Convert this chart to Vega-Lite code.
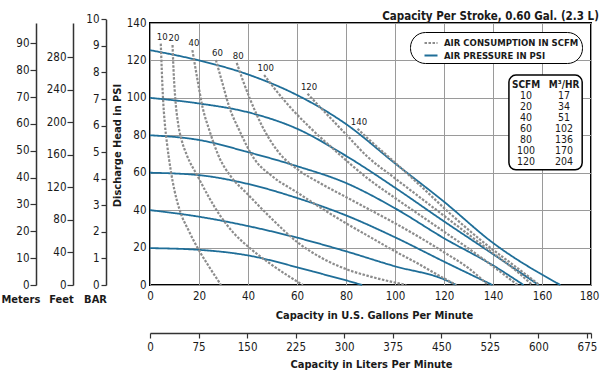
{
  "$schema": "https://vega.github.io/schema/vega-lite/v6.json",
  "width": 441,
  "height": 262,
  "autosize": {"type": "none"},
  "padding": {"left": 150, "top": 23, "right": 9, "bottom": 88},
  "background": "white",
  "title": {"text": "Capacity Per Stroke, 0.60 Gal. (2.3 L)", "anchor": "end", "fontSize": 11.5, "fontWeight": "bold", "font": "DejaVu Sans Condensed, Liberation Sans, sans-serif", "color": "#1a1a1a", "offset": 5, "dy": 14},
  "config": {
    "view": {"stroke": "black", "strokeWidth": 2},
    "font": "DejaVu Sans Condensed, Liberation Sans, sans-serif",
    "axis": {"labelFont": "DejaVu Sans Condensed, Liberation Sans, sans-serif", "titleFont": "DejaVu Sans Condensed, Liberation Sans, sans-serif", "labelColor": "#1a1a1a", "titleColor": "#1a1a1a", "labelFontSize": 11.5, "titleFontSize": 11, "titleFontWeight": "bold", "labelFlush": false, "labelOverlap": false},
    "text": {"font": "DejaVu Sans Condensed, Liberation Sans, sans-serif", "color": "#1a1a1a"}
  },
  "layer": [
    {
      "data": {"values": [
        {"kind": "AIR PRESSURE IN PSI", "curve": "P20", "order": 0, "gpm": 0, "psi": 19.7},
        {"kind": "AIR PRESSURE IN PSI", "curve": "P20", "order": 1, "gpm": 20, "psi": 18.8},
        {"kind": "AIR PRESSURE IN PSI", "curve": "P20", "order": 2, "gpm": 40, "psi": 15.8},
        {"kind": "AIR PRESSURE IN PSI", "curve": "P20", "order": 3, "gpm": 60, "psi": 9.5},
        {"kind": "AIR PRESSURE IN PSI", "curve": "P20", "order": 4, "gpm": 70, "psi": 6},
        {"kind": "AIR PRESSURE IN PSI", "curve": "P20", "order": 5, "gpm": 80, "psi": 2.5},
        {"kind": "AIR PRESSURE IN PSI", "curve": "P20", "order": 6, "gpm": 86.6, "psi": 0},
        {"kind": "AIR PRESSURE IN PSI", "curve": "P40", "order": 0, "gpm": 0, "psi": 40},
        {"kind": "AIR PRESSURE IN PSI", "curve": "P40", "order": 1, "gpm": 20, "psi": 36.5},
        {"kind": "AIR PRESSURE IN PSI", "curve": "P40", "order": 2, "gpm": 40, "psi": 31.5},
        {"kind": "AIR PRESSURE IN PSI", "curve": "P40", "order": 3, "gpm": 60, "psi": 25.3},
        {"kind": "AIR PRESSURE IN PSI", "curve": "P40", "order": 4, "gpm": 80, "psi": 18},
        {"kind": "AIR PRESSURE IN PSI", "curve": "P40", "order": 5, "gpm": 100, "psi": 10},
        {"kind": "AIR PRESSURE IN PSI", "curve": "P40", "order": 6, "gpm": 120, "psi": 3},
        {"kind": "AIR PRESSURE IN PSI", "curve": "P40", "order": 7, "gpm": 125, "psi": 0},
        {"kind": "AIR PRESSURE IN PSI", "curve": "P60", "order": 0, "gpm": 0, "psi": 60},
        {"kind": "AIR PRESSURE IN PSI", "curve": "P60", "order": 1, "gpm": 20, "psi": 58.7},
        {"kind": "AIR PRESSURE IN PSI", "curve": "P60", "order": 2, "gpm": 40, "psi": 54},
        {"kind": "AIR PRESSURE IN PSI", "curve": "P60", "order": 3, "gpm": 60, "psi": 46.5},
        {"kind": "AIR PRESSURE IN PSI", "curve": "P60", "order": 4, "gpm": 80, "psi": 37.2},
        {"kind": "AIR PRESSURE IN PSI", "curve": "P60", "order": 5, "gpm": 100, "psi": 25.5},
        {"kind": "AIR PRESSURE IN PSI", "curve": "P60", "order": 6, "gpm": 120, "psi": 12.5},
        {"kind": "AIR PRESSURE IN PSI", "curve": "P60", "order": 7, "gpm": 139.8, "psi": 0},
        {"kind": "AIR PRESSURE IN PSI", "curve": "P80", "order": 0, "gpm": 0, "psi": 80},
        {"kind": "AIR PRESSURE IN PSI", "curve": "P80", "order": 1, "gpm": 20, "psi": 77.5},
        {"kind": "AIR PRESSURE IN PSI", "curve": "P80", "order": 2, "gpm": 40, "psi": 71},
        {"kind": "AIR PRESSURE IN PSI", "curve": "P80", "order": 3, "gpm": 60, "psi": 63.5},
        {"kind": "AIR PRESSURE IN PSI", "curve": "P80", "order": 4, "gpm": 80, "psi": 54.5},
        {"kind": "AIR PRESSURE IN PSI", "curve": "P80", "order": 5, "gpm": 100, "psi": 41},
        {"kind": "AIR PRESSURE IN PSI", "curve": "P80", "order": 6, "gpm": 120, "psi": 25},
        {"kind": "AIR PRESSURE IN PSI", "curve": "P80", "order": 7, "gpm": 140, "psi": 10.5},
        {"kind": "AIR PRESSURE IN PSI", "curve": "P80", "order": 8, "gpm": 152.5, "psi": 0},
        {"kind": "AIR PRESSURE IN PSI", "curve": "P100", "order": 0, "gpm": 0, "psi": 100},
        {"kind": "AIR PRESSURE IN PSI", "curve": "P100", "order": 1, "gpm": 20, "psi": 97},
        {"kind": "AIR PRESSURE IN PSI", "curve": "P100", "order": 2, "gpm": 40, "psi": 92.3},
        {"kind": "AIR PRESSURE IN PSI", "curve": "P100", "order": 3, "gpm": 60, "psi": 83.5},
        {"kind": "AIR PRESSURE IN PSI", "curve": "P100", "order": 4, "gpm": 80, "psi": 69},
        {"kind": "AIR PRESSURE IN PSI", "curve": "P100", "order": 5, "gpm": 100, "psi": 52},
        {"kind": "AIR PRESSURE IN PSI", "curve": "P100", "order": 6, "gpm": 120, "psi": 34},
        {"kind": "AIR PRESSURE IN PSI", "curve": "P100", "order": 7, "gpm": 140, "psi": 16.5},
        {"kind": "AIR PRESSURE IN PSI", "curve": "P100", "order": 8, "gpm": 158.6, "psi": 0},
        {"kind": "AIR PRESSURE IN PSI", "curve": "P120", "order": 0, "gpm": 0, "psi": 125.5},
        {"kind": "AIR PRESSURE IN PSI", "curve": "P120", "order": 1, "gpm": 20, "psi": 120},
        {"kind": "AIR PRESSURE IN PSI", "curve": "P120", "order": 2, "gpm": 40, "psi": 112.5},
        {"kind": "AIR PRESSURE IN PSI", "curve": "P120", "order": 3, "gpm": 60, "psi": 101.5},
        {"kind": "AIR PRESSURE IN PSI", "curve": "P120", "order": 4, "gpm": 80, "psi": 86},
        {"kind": "AIR PRESSURE IN PSI", "curve": "P120", "order": 5, "gpm": 100, "psi": 65},
        {"kind": "AIR PRESSURE IN PSI", "curve": "P120", "order": 6, "gpm": 120, "psi": 44.5},
        {"kind": "AIR PRESSURE IN PSI", "curve": "P120", "order": 7, "gpm": 140, "psi": 22.5},
        {"kind": "AIR PRESSURE IN PSI", "curve": "P120", "order": 8, "gpm": 167.5, "psi": 0},

        {"kind": "AIR CONSUMPTION IN SCFM", "curve": "10", "order": 0, "gpm": 4.4, "psi": 129},
        {"kind": "AIR CONSUMPTION IN SCFM", "curve": "10", "order": 1, "gpm": 4.8, "psi": 115},
        {"kind": "AIR CONSUMPTION IN SCFM", "curve": "10", "order": 2, "gpm": 5.3, "psi": 100},
        {"kind": "AIR CONSUMPTION IN SCFM", "curve": "10", "order": 3, "gpm": 6, "psi": 87},
        {"kind": "AIR CONSUMPTION IN SCFM", "curve": "10", "order": 4, "gpm": 7, "psi": 75},
        {"kind": "AIR CONSUMPTION IN SCFM", "curve": "10", "order": 5, "gpm": 8.5, "psi": 61},
        {"kind": "AIR CONSUMPTION IN SCFM", "curve": "10", "order": 6, "gpm": 10, "psi": 50.5},
        {"kind": "AIR CONSUMPTION IN SCFM", "curve": "10", "order": 7, "gpm": 12, "psi": 40.5},
        {"kind": "AIR CONSUMPTION IN SCFM", "curve": "10", "order": 8, "gpm": 16, "psi": 28.5},
        {"kind": "AIR CONSUMPTION IN SCFM", "curve": "10", "order": 9, "gpm": 20, "psi": 18.5},
        {"kind": "AIR CONSUMPTION IN SCFM", "curve": "10", "order": 10, "gpm": 24, "psi": 10},
        {"kind": "AIR CONSUMPTION IN SCFM", "curve": "10", "order": 11, "gpm": 29, "psi": 0},
        {"kind": "AIR CONSUMPTION IN SCFM", "curve": "20", "order": 0, "gpm": 9.2, "psi": 128.2},
        {"kind": "AIR CONSUMPTION IN SCFM", "curve": "20", "order": 1, "gpm": 9.6, "psi": 115},
        {"kind": "AIR CONSUMPTION IN SCFM", "curve": "20", "order": 2, "gpm": 10.3, "psi": 100},
        {"kind": "AIR CONSUMPTION IN SCFM", "curve": "20", "order": 3, "gpm": 11.5, "psi": 86},
        {"kind": "AIR CONSUMPTION IN SCFM", "curve": "20", "order": 4, "gpm": 13, "psi": 77},
        {"kind": "AIR CONSUMPTION IN SCFM", "curve": "20", "order": 5, "gpm": 15, "psi": 69.5},
        {"kind": "AIR CONSUMPTION IN SCFM", "curve": "20", "order": 6, "gpm": 19.5, "psi": 58},
        {"kind": "AIR CONSUMPTION IN SCFM", "curve": "20", "order": 7, "gpm": 24, "psi": 47},
        {"kind": "AIR CONSUMPTION IN SCFM", "curve": "20", "order": 8, "gpm": 28.4, "psi": 37.5},
        {"kind": "AIR CONSUMPTION IN SCFM", "curve": "20", "order": 9, "gpm": 34, "psi": 28},
        {"kind": "AIR CONSUMPTION IN SCFM", "curve": "20", "order": 10, "gpm": 40.5, "psi": 20},
        {"kind": "AIR CONSUMPTION IN SCFM", "curve": "20", "order": 11, "gpm": 50, "psi": 10.5},
        {"kind": "AIR CONSUMPTION IN SCFM", "curve": "20", "order": 12, "gpm": 62.4, "psi": 0},
        {"kind": "AIR CONSUMPTION IN SCFM", "curve": "40", "order": 0, "gpm": 17.3, "psi": 125.5},
        {"kind": "AIR CONSUMPTION IN SCFM", "curve": "40", "order": 1, "gpm": 19.4, "psi": 109.5},
        {"kind": "AIR CONSUMPTION IN SCFM", "curve": "40", "order": 2, "gpm": 21.4, "psi": 95.3},
        {"kind": "AIR CONSUMPTION IN SCFM", "curve": "40", "order": 3, "gpm": 24.2, "psi": 82.8},
        {"kind": "AIR CONSUMPTION IN SCFM", "curve": "40", "order": 4, "gpm": 28.5, "psi": 67.5},
        {"kind": "AIR CONSUMPTION IN SCFM", "curve": "40", "order": 5, "gpm": 33, "psi": 58},
        {"kind": "AIR CONSUMPTION IN SCFM", "curve": "40", "order": 6, "gpm": 39.5, "psi": 49},
        {"kind": "AIR CONSUMPTION IN SCFM", "curve": "40", "order": 7, "gpm": 50, "psi": 35},
        {"kind": "AIR CONSUMPTION IN SCFM", "curve": "40", "order": 8, "gpm": 60, "psi": 23},
        {"kind": "AIR CONSUMPTION IN SCFM", "curve": "40", "order": 9, "gpm": 70, "psi": 14.5},
        {"kind": "AIR CONSUMPTION IN SCFM", "curve": "40", "order": 10, "gpm": 80, "psi": 8.5},
        {"kind": "AIR CONSUMPTION IN SCFM", "curve": "40", "order": 11, "gpm": 90, "psi": 4.5},
        {"kind": "AIR CONSUMPTION IN SCFM", "curve": "40", "order": 12, "gpm": 104.6, "psi": 0},
        {"kind": "AIR CONSUMPTION IN SCFM", "curve": "60", "order": 0, "gpm": 26.9, "psi": 120.2},
        {"kind": "AIR CONSUMPTION IN SCFM", "curve": "60", "order": 1, "gpm": 29.6, "psi": 107.7},
        {"kind": "AIR CONSUMPTION IN SCFM", "curve": "60", "order": 2, "gpm": 32.3, "psi": 95.3},
        {"kind": "AIR CONSUMPTION IN SCFM", "curve": "60", "order": 3, "gpm": 36.4, "psi": 82.8},
        {"kind": "AIR CONSUMPTION IN SCFM", "curve": "60", "order": 4, "gpm": 42.5, "psi": 67.5},
        {"kind": "AIR CONSUMPTION IN SCFM", "curve": "60", "order": 5, "gpm": 50, "psi": 58},
        {"kind": "AIR CONSUMPTION IN SCFM", "curve": "60", "order": 6, "gpm": 60, "psi": 49.5},
        {"kind": "AIR CONSUMPTION IN SCFM", "curve": "60", "order": 7, "gpm": 70, "psi": 41},
        {"kind": "AIR CONSUMPTION IN SCFM", "curve": "60", "order": 8, "gpm": 80, "psi": 33},
        {"kind": "AIR CONSUMPTION IN SCFM", "curve": "60", "order": 9, "gpm": 90, "psi": 25.5},
        {"kind": "AIR CONSUMPTION IN SCFM", "curve": "60", "order": 10, "gpm": 100, "psi": 18},
        {"kind": "AIR CONSUMPTION IN SCFM", "curve": "60", "order": 11, "gpm": 110, "psi": 11},
        {"kind": "AIR CONSUMPTION IN SCFM", "curve": "60", "order": 12, "gpm": 118, "psi": 5},
        {"kind": "AIR CONSUMPTION IN SCFM", "curve": "60", "order": 13, "gpm": 125, "psi": 0},
        {"kind": "AIR CONSUMPTION IN SCFM", "curve": "80", "order": 0, "gpm": 35.4, "psi": 118.7},
        {"kind": "AIR CONSUMPTION IN SCFM", "curve": "80", "order": 1, "gpm": 38, "psi": 109},
        {"kind": "AIR CONSUMPTION IN SCFM", "curve": "80", "order": 2, "gpm": 41, "psi": 98.8},
        {"kind": "AIR CONSUMPTION IN SCFM", "curve": "80", "order": 3, "gpm": 45.9, "psi": 84.6},
        {"kind": "AIR CONSUMPTION IN SCFM", "curve": "80", "order": 4, "gpm": 53.4, "psi": 69.5},
        {"kind": "AIR CONSUMPTION IN SCFM", "curve": "80", "order": 5, "gpm": 60, "psi": 62},
        {"kind": "AIR CONSUMPTION IN SCFM", "curve": "80", "order": 6, "gpm": 70, "psi": 54},
        {"kind": "AIR CONSUMPTION IN SCFM", "curve": "80", "order": 7, "gpm": 80, "psi": 47},
        {"kind": "AIR CONSUMPTION IN SCFM", "curve": "80", "order": 8, "gpm": 90, "psi": 40},
        {"kind": "AIR CONSUMPTION IN SCFM", "curve": "80", "order": 9, "gpm": 100, "psi": 33},
        {"kind": "AIR CONSUMPTION IN SCFM", "curve": "80", "order": 10, "gpm": 110, "psi": 25.5},
        {"kind": "AIR CONSUMPTION IN SCFM", "curve": "80", "order": 11, "gpm": 120, "psi": 17.5},
        {"kind": "AIR CONSUMPTION IN SCFM", "curve": "80", "order": 12, "gpm": 130, "psi": 9},
        {"kind": "AIR CONSUMPTION IN SCFM", "curve": "80", "order": 13, "gpm": 138, "psi": 0},
        {"kind": "AIR CONSUMPTION IN SCFM", "curve": "100", "order": 0, "gpm": 46.6, "psi": 112.2},
        {"kind": "AIR CONSUMPTION IN SCFM", "curve": "100", "order": 1, "gpm": 51.3, "psi": 104.2},
        {"kind": "AIR CONSUMPTION IN SCFM", "curve": "100", "order": 2, "gpm": 58.9, "psi": 92.6},
        {"kind": "AIR CONSUMPTION IN SCFM", "curve": "100", "order": 3, "gpm": 65, "psi": 84.5},
        {"kind": "AIR CONSUMPTION IN SCFM", "curve": "100", "order": 4, "gpm": 75, "psi": 72.5},
        {"kind": "AIR CONSUMPTION IN SCFM", "curve": "100", "order": 5, "gpm": 88.8, "psi": 57},
        {"kind": "AIR CONSUMPTION IN SCFM", "curve": "100", "order": 6, "gpm": 100, "psi": 46.5},
        {"kind": "AIR CONSUMPTION IN SCFM", "curve": "100", "order": 7, "gpm": 110, "psi": 37.5},
        {"kind": "AIR CONSUMPTION IN SCFM", "curve": "100", "order": 8, "gpm": 120, "psi": 28.5},
        {"kind": "AIR CONSUMPTION IN SCFM", "curve": "100", "order": 9, "gpm": 130, "psi": 19.5},
        {"kind": "AIR CONSUMPTION IN SCFM", "curve": "100", "order": 10, "gpm": 140, "psi": 10},
        {"kind": "AIR CONSUMPTION IN SCFM", "curve": "100", "order": 11, "gpm": 150, "psi": 0},
        {"kind": "AIR CONSUMPTION IN SCFM", "curve": "120", "order": 0, "gpm": 64.3, "psi": 102.2},
        {"kind": "AIR CONSUMPTION IN SCFM", "curve": "120", "order": 1, "gpm": 68, "psi": 97},
        {"kind": "AIR CONSUMPTION IN SCFM", "curve": "120", "order": 2, "gpm": 72, "psi": 91.5},
        {"kind": "AIR CONSUMPTION IN SCFM", "curve": "120", "order": 3, "gpm": 80, "psi": 80.5},
        {"kind": "AIR CONSUMPTION IN SCFM", "curve": "120", "order": 4, "gpm": 88.8, "psi": 68.5},
        {"kind": "AIR CONSUMPTION IN SCFM", "curve": "120", "order": 5, "gpm": 100, "psi": 57},
        {"kind": "AIR CONSUMPTION IN SCFM", "curve": "120", "order": 6, "gpm": 110, "psi": 47},
        {"kind": "AIR CONSUMPTION IN SCFM", "curve": "120", "order": 7, "gpm": 120, "psi": 37},
        {"kind": "AIR CONSUMPTION IN SCFM", "curve": "120", "order": 8, "gpm": 130, "psi": 27},
        {"kind": "AIR CONSUMPTION IN SCFM", "curve": "120", "order": 9, "gpm": 140, "psi": 17},
        {"kind": "AIR CONSUMPTION IN SCFM", "curve": "120", "order": 10, "gpm": 150, "psi": 7},
        {"kind": "AIR CONSUMPTION IN SCFM", "curve": "120", "order": 11, "gpm": 156, "psi": 0},
        {"kind": "AIR CONSUMPTION IN SCFM", "curve": "140", "order": 0, "gpm": 84.7, "psi": 83.5},
        {"kind": "AIR CONSUMPTION IN SCFM", "curve": "140", "order": 1, "gpm": 90, "psi": 77},
        {"kind": "AIR CONSUMPTION IN SCFM", "curve": "140", "order": 2, "gpm": 97.8, "psi": 68},
        {"kind": "AIR CONSUMPTION IN SCFM", "curve": "140", "order": 3, "gpm": 110, "psi": 53.5},
        {"kind": "AIR CONSUMPTION IN SCFM", "curve": "140", "order": 4, "gpm": 122.2, "psi": 38.5},
        {"kind": "AIR CONSUMPTION IN SCFM", "curve": "140", "order": 5, "gpm": 135, "psi": 24},
        {"kind": "AIR CONSUMPTION IN SCFM", "curve": "140", "order": 6, "gpm": 150, "psi": 9},
        {"kind": "AIR CONSUMPTION IN SCFM", "curve": "140", "order": 7, "gpm": 159, "psi": 0}
      ]},
      "layer": [
        {
          "mark": {"type": "line", "interpolate": "monotone"},
          "encoding": {
            "x": {"field": "gpm", "type": "quantitative", "scale": {"domain": [0, 180], "nice": false},
              "axis": {"values": [0, 20, 40, 60, 80, 100, 120, 140, 160, 180], "tickCount": 10, "grid": true, "gridColor": "#9a9a9a", "gridWidth": 1, "domain": false, "ticks": false, "tickSize": 0, "labelPadding": 5, "labelOffset": {"condition": {"test": "datum.value == 180", "value": -2}, "value": 0}, "title": "Capacity in U.S. Gallons Per Minute", "titleX": 224, "titleY": 30, "titleBaseline": "middle", "titleAlign": "center"}},
            "y": {"field": "psi", "type": "quantitative", "scale": {"domain": [0, 140], "nice": false},
              "axis": {"values": [0, 20, 40, 60, 80, 100, 120, 140], "tickCount": 8, "grid": true, "gridColor": "#9a9a9a", "gridWidth": 1, "domain": false, "ticks": false, "tickSize": 0, "labelPadding": 4, "title": "Discharge Head in PSI", "titleX": -33, "titleY": 122, "titleAngle": -90, "titleAlign": "center", "titleBaseline": "middle"}},
            "detail": {"field": "curve"},
            "color": {"field": "kind", "type": "nominal",
              "scale": {"domain": ["AIR CONSUMPTION IN SCFM", "AIR PRESSURE IN PSI"], "range": ["#8c8c8c", "#1f6e98"]},
              "legend": {"orient": "top-right", "offset": 9, "title": null, "symbolType": "stroke", "symbolSize": 169, "symbolStrokeWidth": 2, "labelFont": "DejaVu Sans Condensed, Liberation Sans, sans-serif", "labelFontSize": 9.5, "labelFontWeight": "bold", "labelColor": "#1a1a1a", "strokeColor": "black", "cornerRadius": 15, "padding": 3, "fillColor": "white", "symbolOffset": 10, "labelOffset": 5, "rowPadding": 0}},
            "strokeDash": {"field": "kind", "type": "nominal",
              "scale": {"domain": ["AIR CONSUMPTION IN SCFM", "AIR PRESSURE IN PSI"], "range": [[2.5, 1.5], [1, 0]]}},
            "strokeWidth": {"field": "kind", "type": "nominal",
              "scale": {"domain": ["AIR CONSUMPTION IN SCFM", "AIR PRESSURE IN PSI"], "range": [2.2, 1.8]}, "legend": null}
          }
        },
        {
          "transform": [{"filter": "datum.order == 0 && datum.kind == 'AIR CONSUMPTION IN SCFM'"}],
          "mark": {"type": "text", "dy": -7, "dx": 1.5, "fontSize": 9.5, "baseline": "middle"},
          "encoding": {
            "x": {"field": "gpm", "type": "quantitative",
              "axis": {"values": [0, 20, 40, 60, 80, 100, 120, 140, 160, 180], "tickCount": 10, "grid": true, "gridColor": "#9a9a9a", "gridWidth": 1, "domain": false, "ticks": false, "tickSize": 0, "labelPadding": 5, "labelOffset": {"condition": {"test": "datum.value == 180", "value": -2}, "value": 0}, "title": "Capacity in U.S. Gallons Per Minute", "titleX": 224, "titleY": 30, "titleBaseline": "middle", "titleAlign": "center"}},
            "y": {"field": "psi", "type": "quantitative",
              "axis": {"values": [0, 20, 40, 60, 80, 100, 120, 140], "tickCount": 8, "grid": true, "gridColor": "#9a9a9a", "gridWidth": 1, "domain": false, "ticks": false, "tickSize": 0, "labelPadding": 4, "title": "Discharge Head in PSI", "titleX": -33, "titleY": 122, "titleAngle": -90, "titleAlign": "center", "titleBaseline": "middle"}},
            "text": {"field": "curve"}
          }
        }
      ]
    },
    {
      "data": {"values": [
        {"row": 0, "scfm": "SCFM", "m3": "M³/HR"},
        {"row": 1, "scfm": "10", "m3": "17"},
        {"row": 2, "scfm": "20", "m3": "34"},
        {"row": 3, "scfm": "40", "m3": "51"},
        {"row": 4, "scfm": "60", "m3": "102"},
        {"row": 5, "scfm": "80", "m3": "136"},
        {"row": 6, "scfm": "100", "m3": "170"},
        {"row": 7, "scfm": "120", "m3": "204"}
      ]},
      "layer": [
        {
          "transform": [{"filter": "datum.row == 0"}],
          "mark": {"type": "rect", "cornerRadius": 7, "fill": "white", "stroke": "black", "strokeWidth": 1.5},
          "encoding": {
            "x": {"datum": 146.5, "type": "quantitative", "scale": {"domain": [0, 180], "nice": false, "zero": false}, "axis": null},
            "x2": {"datum": 176.4},
            "y": {"datum": -0.9, "type": "quantitative", "scale": {"domain": [-5.66, 18.27], "reverse": true, "nice": false, "zero": false}, "axis": null},
            "y2": {"datum": 7.75}
          }
        },
        {
          "transform": [{"filter": "datum.row == 0"}],
          "mark": {"type": "text", "fontSize": 10, "fontWeight": "bold", "baseline": "middle"},
          "encoding": {
            "x": {"datum": 153.5, "type": "quantitative"},
            "y": {"field": "row", "type": "quantitative"},
            "text": {"field": "scfm"}
          }
        },
        {
          "transform": [{"filter": "datum.row == 0"}],
          "mark": {"type": "text", "fontSize": 10, "fontWeight": "bold", "baseline": "middle"},
          "encoding": {
            "x": {"datum": 169, "type": "quantitative"},
            "y": {"field": "row", "type": "quantitative"},
            "text": {"field": "m3"}
          }
        },
        {
          "transform": [{"filter": "datum.row > 0"}],
          "mark": {"type": "text", "fontSize": 10.5, "baseline": "middle"},
          "encoding": {
            "x": {"datum": 153.5, "type": "quantitative"},
            "y": {"field": "row", "type": "quantitative"},
            "text": {"field": "scfm"}
          }
        },
        {
          "transform": [{"filter": "datum.row > 0"}],
          "mark": {"type": "text", "fontSize": 10.5, "baseline": "middle"},
          "encoding": {
            "x": {"datum": 169, "type": "quantitative"},
            "y": {"field": "row", "type": "quantitative"},
            "text": {"field": "m3"}
          }
        }
      ]
    },
    {
      "data": {"values": [{"bar": 0}, {"bar": 10}]},
      "mark": {"type": "point", "opacity": 0},
      "encoding": {
        "y": {"field": "bar", "type": "quantitative", "scale": {"domain": [0, 10], "range": [262, -3.7], "nice": false},
          "axis": {"orient": "left", "offset": 44, "values": [0, 1, 2, 3, 4, 5, 6, 7, 8, 9, 10], "grid": false, "domain": true, "domainColor": "#333333", "domainWidth": 1.5, "ticks": true, "tickColor": "#333333", "tickSize": 5, "tickWidth": 1.2, "labelPadding": 2, "title": "BAR", "titleAngle": 0, "titleX": -11, "titleY": 276, "titleAlign": "center", "titleBaseline": "middle"}}
      }
    },
    {
      "data": {"values": [{"feet": 0}, {"feet": 322}]},
      "mark": {"type": "point", "opacity": 0},
      "encoding": {
        "y": {"field": "feet", "type": "quantitative", "scale": {"domain": [0, 322], "nice": false},
          "axis": {"orient": "left", "offset": 77, "values": [0, 40, 80, 120, 160, 200, 240, 280], "grid": false, "domain": true, "domainColor": "#333333", "domainWidth": 1.5, "ticks": true, "tickColor": "#333333", "tickSize": 6, "tickWidth": 1.2, "labelPadding": 1, "title": "Feet", "titleAngle": 0, "titleX": -12, "titleY": 276, "titleAlign": "center", "titleBaseline": "middle"}}
      }
    },
    {
      "data": {"values": [{"meters": 0}, {"meters": 97.6}]},
      "mark": {"type": "point", "opacity": 0},
      "encoding": {
        "y": {"field": "meters", "type": "quantitative", "scale": {"domain": [0, 97.6], "nice": false},
          "axis": {"orient": "left", "offset": 114, "values": [0, 10, 20, 30, 40, 50, 60, 70, 80, 90], "grid": false, "domain": true, "domainColor": "#333333", "domainWidth": 1.5, "ticks": true, "tickColor": "#333333", "tickSize": 6, "tickWidth": 1.2, "labelPadding": 1, "title": "Meters", "titleAngle": 0, "titleX": -35, "titleY": 276, "titleAlign": "left", "titleBaseline": "middle"}}
      }
    },
    {
      "data": {"values": [{"lpm": 0}, {"lpm": 681.3}]},
      "mark": {"type": "point", "opacity": 0},
      "encoding": {
        "x": {"field": "lpm", "type": "quantitative", "scale": {"domain": [0, 681.3], "nice": false},
          "axis": {"orient": "bottom", "offset": 48, "values": [0, 75, 150, 225, 300, 375, 450, 525, 600, 675, 681.3], "labelExpr": "datum.value > 680 ? '' : datum.label", "grid": false, "domain": true, "domainColor": "#333333", "domainWidth": 1.5, "ticks": true, "tickColor": "#333333", "tickSize": 5, "tickWidth": 1.2, "labelPadding": 3, "title": "Capacity in Liters Per Minute", "titleX": 221, "titleY": 31, "titleAlign": "center", "titleBaseline": "middle"}}
      }
    }
  ],
  "resolve": {"scale": {"x": "independent", "y": "independent"}}
}
